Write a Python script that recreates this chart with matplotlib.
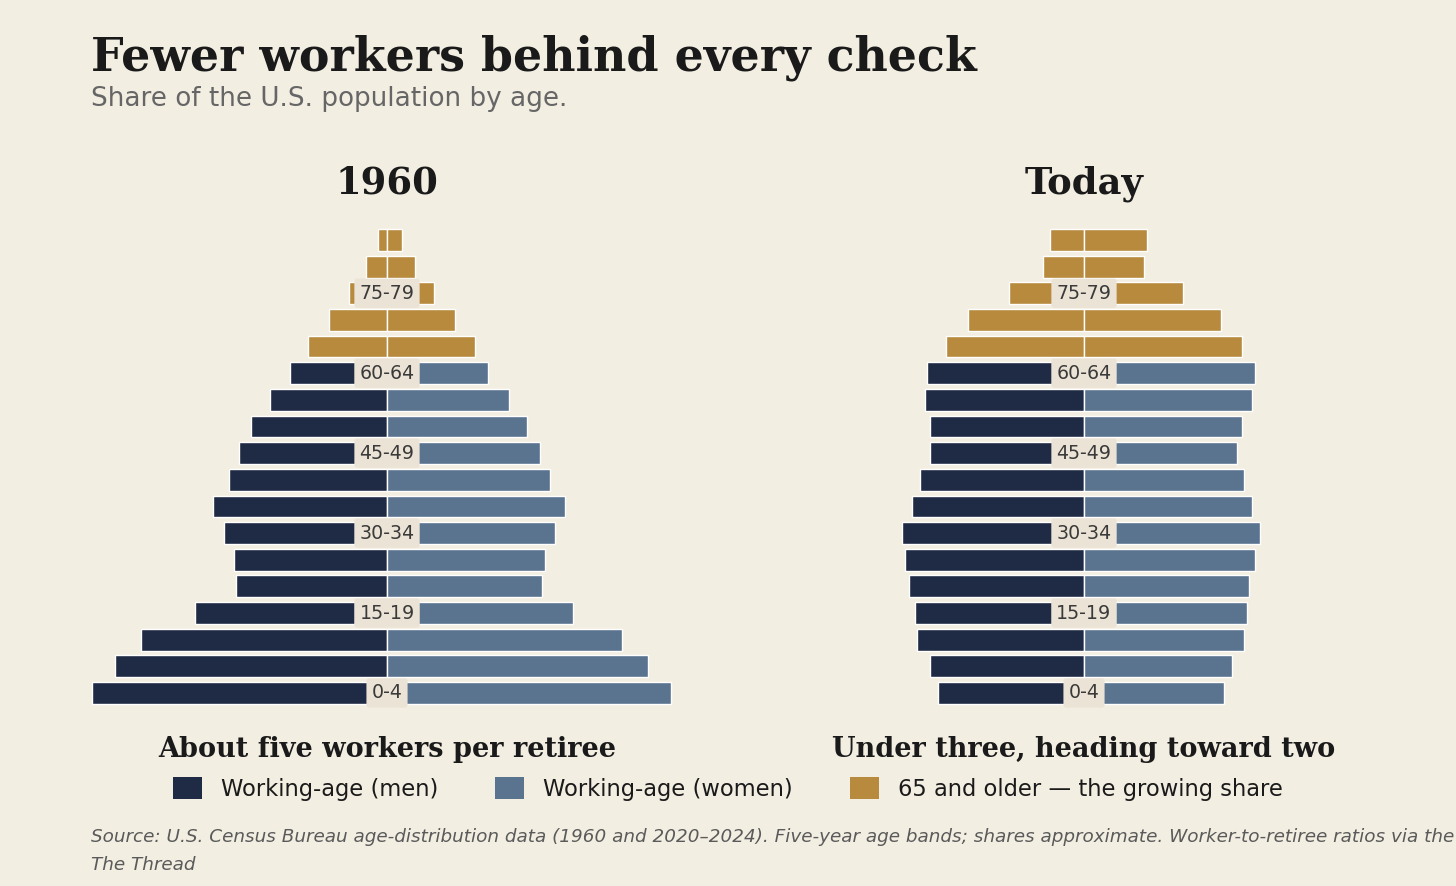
import matplotlib.pyplot as plt

# age bands, bottom to top
ages = ['0-4', '5-9', '10-14', '15-19', '20-24', '25-29', '30-34', '35-39', '40-44',
        '45-49', '50-54', '55-59', '60-64', '65-69', '70-74', '75-79', '80-84', '85+']

# share of population (%)
men_1960 = [5.67, 5.23, 4.73, 3.69, 2.90, 2.94, 3.13, 3.35, 3.04,
            2.85, 2.62, 2.25, 1.87, 1.52, 1.12, 0.73, 0.40, 0.17]
women_1960 = [5.46, 5.02, 4.52, 3.58, 2.98, 3.04, 3.23, 3.42, 3.13,
              2.94, 2.69, 2.35, 1.94, 1.69, 1.31, 0.90, 0.54, 0.29]
men_today = [2.81, 2.96, 3.21, 3.25, 3.37, 3.44, 3.50, 3.31, 3.15,
             2.96, 2.96, 3.06, 3.02, 2.65, 2.23, 1.44, 0.79, 0.65]
women_today = [2.69, 2.85, 3.08, 3.13, 3.17, 3.29, 3.38, 3.23, 3.08,
               2.94, 3.04, 3.23, 3.29, 3.04, 2.63, 1.90, 1.15, 1.21]

labeled = ['0-4', '15-19', '30-34', '45-49', '60-64', '75-79']

BG = '#f3eee2'
NAVY = '#1f2a44'
SLATE = '#5a7490'
GOLD = '#b88a3e'

fig = plt.figure(figsize=(14.56, 8.86), dpi=100, facecolor=BG)


def pyramid(ax, men, women, title, caption):
    ax.set_facecolor(BG)
    y = range(len(ages))
    old = [i >= ages.index('65-69') for i in y]
    cm = [GOLD if o else NAVY for o in old]
    cw = [GOLD if o else SLATE for o in old]
    ax.barh(y, [-m for m in men], height=0.82, color=cm, edgecolor='white', linewidth=1)
    ax.barh(y, women, height=0.82, color=cw, edgecolor='white', linewidth=1)
    for i, a in enumerate(ages):
        if a in labeled:
            ax.text(0, i, a, ha='center', va='center', fontsize=13.7, color='#3a3a3a',
                    bbox=dict(boxstyle='round,pad=0.27,rounding_size=0.15',
                              fc='#ebe3d5', ec='none'))
    ax.set_xlim(-5.77, 5.77)
    ax.set_ylim(-0.5, 17.5)
    ax.axis('off')
    ax.text(0.5, 1.09, title, transform=ax.transAxes, ha='center', va='center',
            fontsize=26.6, fontweight='bold', family='DejaVu Serif', color='#1a1a1a')
    ax.text(0.5, -0.09, caption, transform=ax.transAxes, ha='center', va='center',
            fontsize=19.5, fontweight='bold', family='DejaVu Serif', color='#1a1a1a')


ax1 = fig.add_axes([87 / 1456, 0.2028, 600 / 1456, 0.5414])
ax2 = fig.add_axes([784 / 1456, 0.2028, 600 / 1456, 0.5414])
pyramid(ax1, men_1960, women_1960, '1960', 'About five workers per retiree')
pyramid(ax2, men_today, women_today, 'Today', 'Under three, heading toward two')

fig.text(91 / 1456, 1 - 58 / 886, 'Fewer workers behind every check', ha='left', va='center',
         fontsize=33, fontweight='bold', family='DejaVu Serif', color='#1a1a1a')
fig.text(91 / 1456, 1 - 99 / 886, 'Share of the U.S. population by age.', ha='left', va='center',
         fontsize=18.9, color='#666666')

handles = [plt.Rectangle((0, 0), 1, 1, fc=c) for c in (NAVY, SLATE, GOLD)]
fig.legend(handles, ['Working-age (men)', 'Working-age (women)', '65 and older \u2014 the growing share'],
           loc='center', bbox_to_anchor=(0.5, 1 - 789 / 886), ncol=3, frameon=False,
           fontsize=16.3, handlelength=1.28, handleheight=1.1, handletextpad=0.85,
           columnspacing=2.5, labelcolor='#1a1a1a')

fig.text(91 / 1456, 1 - 837 / 886,
         'Source: U.S. Census Bureau age-distribution data (1960 and 2020\u20132024). Five-year age bands; '
         'shares approximate. Worker-to-retiree ratios via the',
         ha='left', va='center', fontsize=13.2, style='italic', color='#5a5a5a')
fig.text(91 / 1456, 1 - 865 / 886, 'The Thread', ha='left', va='center',
         fontsize=13.2, style='italic', color='#5a5a5a')

fig.savefig('out.png', dpi=100, facecolor=BG)
